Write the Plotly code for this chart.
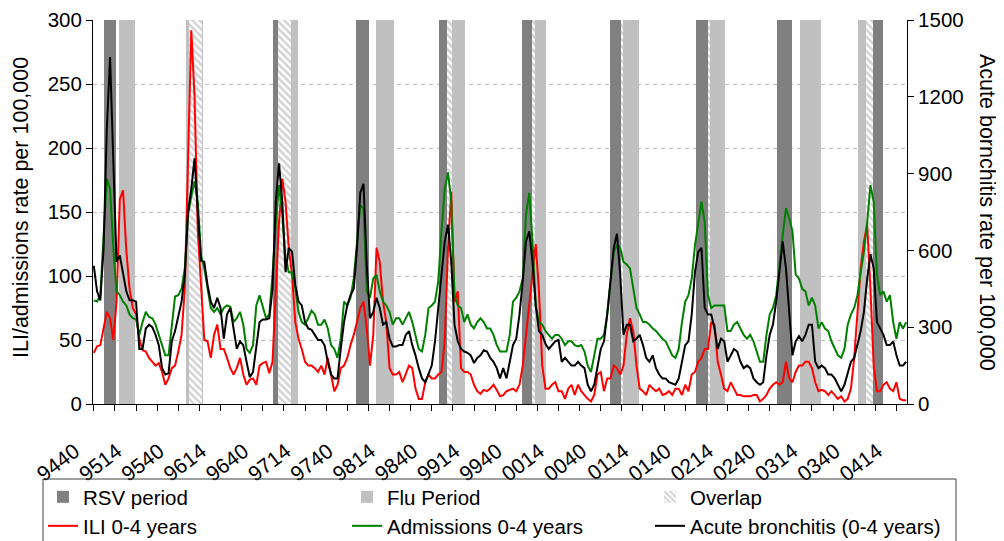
import plotly.graph_objects as go

# ---------------- data ----------------
N_WEEKS = 501  # weekly categories 9440 ... 0420


def week_code(i):
    if i < 13:
        return "94%02d" % (40 + i)
    y = 1995 + (i - 13) // 52
    w = (i - 13) % 52 + 1
    return "%02d%02d" % (y % 100, w)


def week_index(code):
    yy = int(code[:2])
    year = 1900 + yy if yy >= 50 else 2000 + yy
    return (year - 1994) * 52 + int(code[2:]) - 40


# sampled every second week
sample_weeks = [week_code(i) for i in range(0, N_WEEKS, 2)]

ili = [40, 45, 46, 59, 72, 67, 50, 80, 160, 167, 120, 90, 75, 70, 51, 42, 41, 36, 33, 30,
       32, 25, 15, 20, 28, 30, 41, 54, 90, 200, 292, 240, 135, 93, 50, 49, 36, 54, 62, 43,
       43, 36, 28, 23, 28, 36, 23, 15, 19, 20, 15, 30, 32, 33, 24, 33, 83, 142, 176, 158,
       122, 101, 64, 51, 43, 33, 30, 30, 28, 25, 30, 23, 36, 23, 10, 15, 28, 30, 36, 46,
       54, 64, 75, 80, 59, 30, 54, 122, 111, 80, 64, 28, 23, 23, 25, 17, 23, 30, 28, 12,
       4, 4, 17, 23, 20, 20, 23, 25, 49, 122, 166, 80, 88, 28, 25, 25, 23, 15, 10, 8,
       11, 10, 12, 15, 11, 6, 7, 10, 11, 12, 10, 15, 30, 54, 80, 106, 125, 88, 30, 12,
       12, 15, 17, 10, 10, 4, 12, 15, 7, 15, 10, 7, 4, 2, 7, 23, 25, 10, 20, 20,
       30, 28, 23, 30, 54, 67, 57, 30, 12, 10, 7, 15, 12, 10, 12, 7, 8, 10, 7, 12,
       12, 7, 15, 10, 23, 25, 33, 36, 43, 43, 64, 62, 33, 23, 12, 10, 17, 12, 7, 7,
       6, 6, 6, 7, 7, 2, 4, 7, 12, 15, 17, 15, 17, 33, 20, 17, 25, 30, 30, 33,
       33, 28, 17, 10, 11, 10, 7, 10, 7, 4, 6, 2, 4, 12, 36, 70, 106, 127, 140, 90,
       30, 10, 10, 15, 17, 12, 10, 17, 4, 3, 3]

admissions = [81, 80, 85, 132, 176, 168, 122, 88, 85, 80, 77, 70, 67, 66, 54, 64, 72, 68, 67, 62,
              54, 46, 38, 38, 64, 84, 85, 90, 106, 148, 162, 174, 158, 116, 106, 90, 75, 72, 75, 70,
              75, 77, 76, 64, 67, 72, 62, 43, 40, 46, 77, 85, 75, 67, 70, 101, 142, 171, 148, 114,
              103, 103, 90, 72, 64, 62, 67, 73, 70, 62, 62, 66, 59, 46, 43, 36, 51, 80, 77, 83,
              98, 127, 155, 153, 88, 83, 98, 101, 88, 80, 77, 72, 62, 67, 67, 62, 67, 72, 64, 54,
              43, 41, 54, 75, 77, 80, 96, 135, 168, 181, 158, 85, 77, 75, 64, 70, 62, 59, 64, 67,
              64, 59, 59, 54, 46, 41, 41, 41, 54, 80, 83, 88, 98, 148, 165, 127, 77, 64, 62, 57,
              54, 51, 54, 54, 51, 46, 49, 49, 46, 45, 46, 41, 30, 25, 38, 51, 51, 54, 70, 96,
              119, 124, 122, 111, 109, 106, 90, 75, 70, 64, 64, 62, 59, 57, 54, 51, 49, 43, 38, 36,
              43, 64, 80, 85, 98, 124, 142, 158, 142, 85, 75, 77, 77, 77, 77, 57, 57, 62, 64, 59,
              54, 51, 54, 49, 41, 33, 33, 54, 70, 75, 85, 111, 132, 153, 145, 135, 101, 98, 90, 88,
              77, 83, 77, 59, 64, 59, 57, 49, 43, 38, 36, 43, 62, 70, 75, 85, 103, 119, 142, 171,
              158, 101, 85, 88, 80, 85, 64, 51, 64, 59, 64]

bronchitis = [540, 440, 405, 605, 1075, 1355, 950, 555, 580, 505, 440, 405, 405, 400, 215, 215, 295, 310, 300, 270,
              230, 140, 115, 120, 245, 285, 350, 400, 505, 750, 840, 960, 750, 560, 555, 465, 400, 375, 415, 375,
              255, 350, 375, 285, 215, 245, 230, 165, 105, 125, 215, 320, 330, 330, 335, 450, 790, 940, 790, 515,
              610, 595, 465, 400, 385, 320, 295, 290, 270, 250, 250, 230, 165, 115, 100, 100, 215, 320, 385, 425,
              450, 610, 825, 860, 545, 335, 360, 415, 375, 310, 320, 255, 225, 225, 230, 230, 270, 285, 230, 190,
              140, 100, 85, 115, 150, 245, 375, 490, 635, 700, 555, 310, 245, 215, 205, 200, 190, 160, 180, 190,
              210, 205, 180, 165, 140, 100, 140, 100, 165, 230, 255, 350, 480, 635, 675, 555, 385, 285, 270, 235,
              215, 230, 245, 250, 165, 180, 165, 150, 150, 165, 150, 140, 75, 50, 75, 140, 215, 245, 350, 480,
              610, 665, 505, 270, 310, 310, 245, 255, 270, 230, 180, 165, 190, 140, 115, 100, 100, 85, 80, 75,
              100, 165, 230, 245, 350, 515, 595, 610, 375, 350, 350, 295, 215, 255, 245, 165, 190, 215, 205, 165,
              140, 150, 140, 100, 85, 75, 85, 190, 270, 310, 400, 530, 635, 530, 350, 190, 245, 265, 245, 270,
              310, 310, 165, 140, 150, 140, 115, 115, 100, 75, 50, 75, 125, 165, 180, 230, 285, 360, 490, 585,
              530, 320, 295, 270, 230, 230, 245, 190, 150, 150, 165]

tick_labels = ["9440", "9514", "9540", "9614", "9640", "9714", "9740", "9814", "9840", "9914",
               "9940", "0014", "0040", "0114", "0140", "0214", "0240", "0314", "0340", "0414"]

rsv_start = ["9447", "9547", "9647", "9746", "9845", "9944", "0046", "0147", "0245", "0348"]
rsv_end = ["9501", "9602", "9705", "9801", "9852", "9951", "0101", "0203", "0301", "0405"]
flu_start = ["9504", "9545", "9650", "9806", "9850", "9950", "0101", "0203", "0307", "0343"]
flu_end = ["9513", "9603", "9709", "9816", "9908", "0006", "0111", "0212", "0319", "0351"]

LEFT_MAX, RIGHT_MAX = 300, 1500

# ---------------- helpers ----------------
def week_set(starts, ends):
    s = set()
    for a, b in zip(starts, ends):
        s.update(range(week_index(a), week_index(b) + 1))
    return s


def runs(weeks):
    weeks = sorted(weeks)
    out = []
    for w in weeks:
        if out and w == out[-1][1] + 1:
            out[-1][1] = w
        else:
            out.append([w, w])
    return out


rsv = week_set(rsv_start, rsv_end)
flu = week_set(flu_start, flu_end)
both = rsv & flu

FONT = "Liberation Sans, Arial, sans-serif"
FS = 20.5

fig = go.Figure()


def add_band(weeks, name, legend, **marker):
    r = runs(weeks)
    fig.add_trace(go.Bar(
        x=[(a + b) / 2 for a, b in r],
        y=[LEFT_MAX] * len(r),
        width=[b - a + 1 for a, b in r],
        name=name, legend=legend, showlegend=True, marker=dict(line=dict(width=0), **marker),
        hoverinfo="skip", yaxis="y"))


add_band(rsv - both, "RSV period", "legend", color="#808080")
add_band(flu - both, "Flu Period", "legend2", color="#C0C0C0")
add_band(both, "Overlap", "legend3", color="white",
         pattern=dict(shape="\\", fgcolor="#A8A8A8", bgcolor="white", size=5, solidity=0.5))

xs = [week_index(c) for c in sample_weeks]
fig.add_trace(go.Scatter(x=xs, y=ili, mode="lines", name="ILI 0-4 years", legend="legend4",
                         line=dict(color="#FF0000", width=2), yaxis="y"))
fig.add_trace(go.Scatter(x=xs, y=admissions, mode="lines", name="Admissions 0-4 years", legend="legend5",
                         line=dict(color="#008000", width=2), yaxis="y"))
fig.add_trace(go.Scatter(x=xs, y=bronchitis, mode="lines", name="Acute bronchitis (0-4 years)",
                         legend="legend6", line=dict(color="#000000", width=2), yaxis="y2"))

# page has an 8px body margin: the figure starts at (8, 8) of the window
PAGE_OFF = 8
WIN_W, WIN_H = 1004, 541
W, H = WIN_W - PAGE_OFF, WIN_H - PAGE_OFF
# plot area in window pixels
PL, PR, PT, PB = 93, 907, 20, 404
L, R, T, B = PL - PAGE_OFF, WIN_W - PR, PT - PAGE_OFF, WIN_H - PB
PW, PH = PR - PL, PB - PT


def px_x(x):
    return (x - PL) / PW


def px_y(y):
    return (PB - y) / PH


tick_vals = list(range(0, N_WEEKS, 13))
tick_text = [tick_labels[k // 2] if k % 2 == 0 and k // 2 < len(tick_labels) else "" for k in range(len(tick_vals))]

leg_common = dict(bgcolor="rgba(0,0,0,0)", borderwidth=0, font=dict(family=FONT, size=FS, color="black"),
                  xanchor="left", yanchor="middle", itemwidth=30, orientation="v")
col_x = [43, 347, 650]
row_y = [497, 526]

fig.update_layout(
    width=W, height=H, margin=dict(l=L, r=R, t=T, b=B, autoexpand=False),
    paper_bgcolor="white", plot_bgcolor="white", showlegend=True,
    barmode="overlay", bargap=0,
    font=dict(family=FONT, size=FS, color="black"),
    xaxis=dict(range=[-0.5, N_WEEKS - 0.5], tickvals=tick_vals, ticktext=tick_text, tickangle=-37,
               ticks="outside", ticklen=6, tickcolor="black", showline=True, linecolor="black",
               linewidth=1, showgrid=False, zeroline=False, tickfont=dict(size=21),
               ticklabelstandoff=20, ticklabelshift=-19, automargin=False),
    yaxis=dict(range=[0, LEFT_MAX], dtick=50, ticks="outside", ticklen=6, tickcolor="black",
               showline=True, linecolor="black", linewidth=1, showgrid=True, gridcolor="#C0C0C0",
               griddash="4px,4px", gridwidth=1, zeroline=False, tickfont=dict(size=FS), automargin=False),
    yaxis2=dict(range=[0, RIGHT_MAX], dtick=300, overlaying="y", side="right", ticks="outside",
                ticklen=6, tickcolor="black", showline=True, linecolor="black", linewidth=1,
                showgrid=False, zeroline=False, tickfont=dict(size=FS), automargin=False),
    legend=dict(x=px_x(col_x[0]), y=px_y(row_y[0]), **leg_common),
    legend2=dict(x=px_x(col_x[1]), y=px_y(row_y[0]), **leg_common),
    legend3=dict(x=px_x(col_x[2]), y=px_y(row_y[0]), **leg_common),
    legend4=dict(x=px_x(col_x[0]), y=px_y(row_y[1]), **leg_common),
    legend5=dict(x=px_x(col_x[1]), y=px_y(row_y[1]), **leg_common),
    legend6=dict(x=px_x(col_x[2]), y=px_y(row_y[1]), **leg_common),
    shapes=[dict(type="rect", xref="paper", yref="paper", x0=px_x(43), x1=px_x(956),
                 y0=px_y(479), y1=px_y(600), line=dict(color="#404040", width=1), fillcolor="rgba(0,0,0,0)")],
    annotations=[
        dict(text="ILI/admissions rate per 100,000", textangle=-90, xref="paper", yref="paper",
             x=px_x(21), y=px_y(208), xanchor="center", yanchor="middle", showarrow=False,
             font=dict(size=21.5)),
        dict(text="Acute bornchitis rate per 100,000", textangle=90, xref="paper", yref="paper",
             x=px_x(987), y=px_y(213), xanchor="center", yanchor="middle", showarrow=False,
             font=dict(size=21.5)),
    ],
)

fig.write_html("out.html")
